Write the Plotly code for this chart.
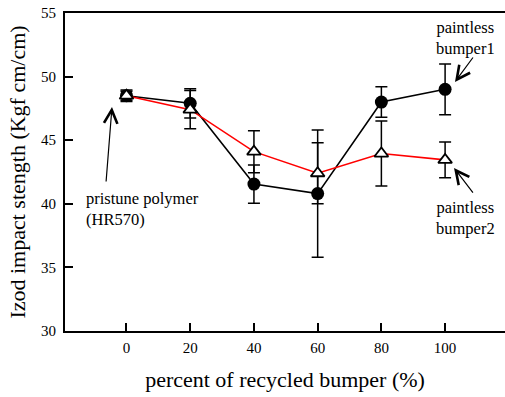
import plotly.graph_objects as go

x_percent = [0, 20, 40, 60, 80, 100]
bumper1 = [48.5, 47.9, 41.55, 40.8, 48.0, 49.0]
bumper1_err = [0.45, 1.15, 1.5, 5.0, 1.2, 2.0]
bumper2 = [48.5, 47.4, 44.1, 42.4, 43.95, 43.45]
bumper2_err = [0.35, 1.5, 1.65, 2.4, 2.55, 1.4]
x_ticks = [0, 20, 40, 60, 80, 100]
y_ticks = [30, 35, 40, 45, 50, 55]

FONT = "Liberation Serif, Times New Roman, serif"

fig = go.Figure()
fig.add_trace(go.Scatter(
    x=x_percent, y=bumper1, mode="lines+markers",
    line=dict(color="black", width=1.6),
    marker=dict(symbol="circle", size=13, color="black"),
    error_y=dict(type="data", array=bumper1_err, color="black", thickness=1.5, width=6),
    showlegend=False,
))
fig.add_trace(go.Scatter(
    x=x_percent, y=bumper2, mode="lines+markers",
    line=dict(color="#ff0000", width=1.6),
    marker=dict(symbol="triangle-up", size=12, color="white",
                line=dict(color="black", width=1.8)),
    error_y=dict(type="data", array=bumper2_err, color="black", thickness=1.5, width=6),
    showlegend=False,
))

ann_font = dict(family=FONT, size=16.5, color="black")
arrow = dict(showarrow=True, arrowhead=5, arrowsize=2.2, arrowwidth=1.2,
             arrowcolor="black", axref="x", ayref="y", text="")
fig.add_annotation(x=103.1, y=49.58, ax=109.1, ay=51.62, **arrow)
fig.add_annotation(x=102.8, y=42.81, ax=109.1, ay=40.77, **arrow)
fig.add_annotation(x=-4.55, y=47.61, ax=-6.44, ay=41.64, **arrow)
fig.add_annotation(x=106.3, y=53.07, text="paintless<br>bumper1", showarrow=False,
                   font=ann_font, align="center", xanchor="center", yanchor="middle")
fig.add_annotation(x=106.3, y=38.88, text="paintless<br>bumper2", showarrow=False,
                   font=ann_font, align="center", xanchor="center", yanchor="middle")
fig.add_annotation(x=-13.3, y=39.6, text="pristune polymer<br>(HR570)", showarrow=False,
                   font=ann_font, align="left", xanchor="left", yanchor="middle")

fig.update_layout(
    width=505, height=397,
    margin=dict(l=65, r=0, t=13, b=66),
    paper_bgcolor="white", plot_bgcolor="white",
    font=dict(family=FONT, color="black"),
)
fig.update_xaxes(
    range=[-19.3, 118.8], tickvals=x_ticks, ticks="inside", ticklen=8, tickwidth=1.5,
    tickcolor="black", showline=True, linecolor="black", linewidth=2, mirror=True,
    showgrid=False, zeroline=False, tickfont=dict(family=FONT, size=15), automargin=False,
    ticklabelstandoff=2,
    title=dict(text="percent of recycled bumper (%)", font=dict(family=FONT, size=22), standoff=17),
)
fig.update_yaxes(
    range=[30, 55], tickvals=y_ticks, ticks="inside", ticklen=8, tickwidth=1.5,
    tickcolor="black", showline=True, linecolor="black", linewidth=2,
    showgrid=False, zeroline=False, tickfont=dict(family=FONT, size=15), automargin=False,
    ticklabelstandoff=4,
    title=dict(text="Izod impact stength (Kgf cm/cm)", font=dict(family=FONT, size=22), standoff=9),
)
fig.write_html("out.html", config={"displayModeBar": False},
               post_script="document.body.style.margin='0';document.body.style.overflow='hidden';")
